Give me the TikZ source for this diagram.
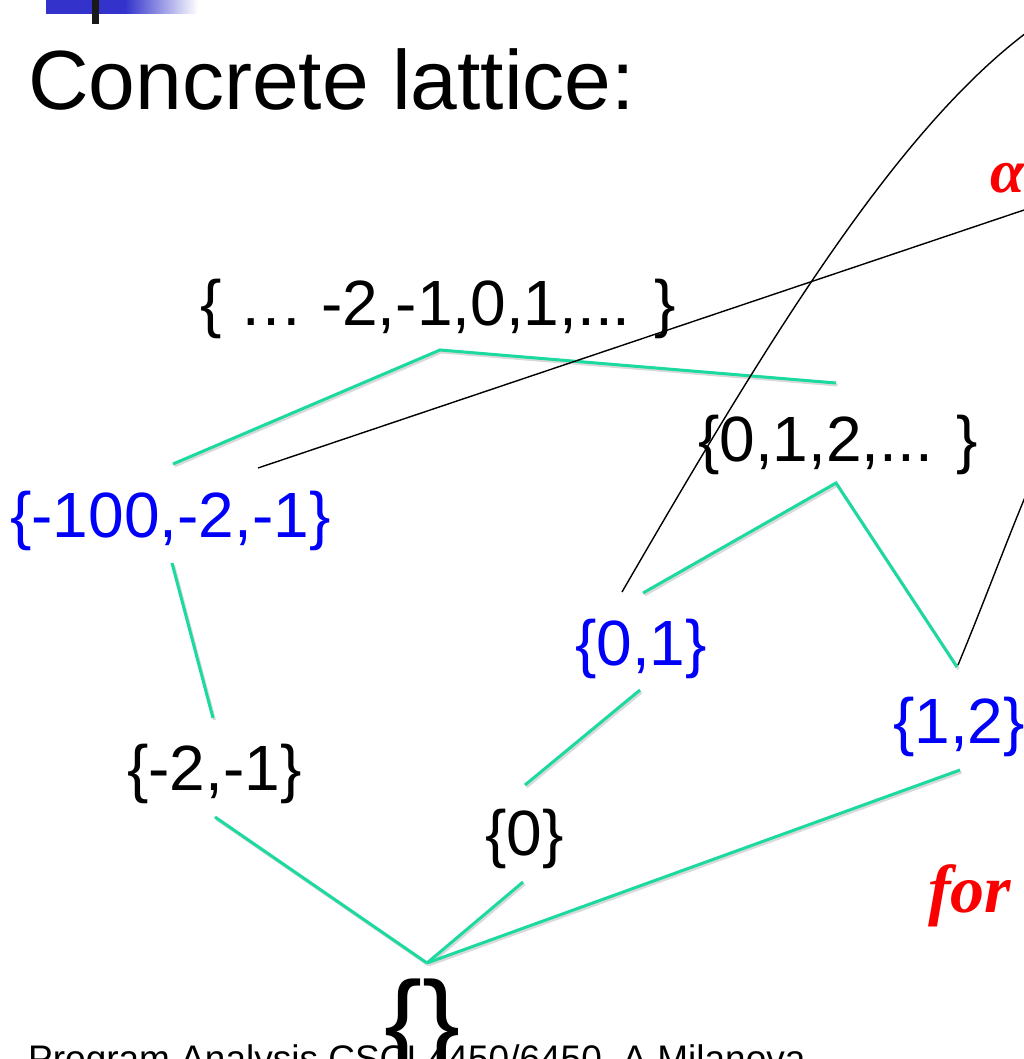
\documentclass[tikz,border=0pt]{standalone}
\usepackage{fontspec}
\setmainfont{Liberation Sans}
\newfontfamily\hand{Liberation Serif}
\definecolor{lgreen}{RGB}{28,217,160}
\definecolor{lblue}{RGB}{0,0,250}
\definecolor{barblue}{RGB}{51,51,204}
\definecolor{pred}{RGB}{250,0,0}
\tikzset{
  lab/.style={anchor=base west, inner sep=0pt, font=\fontsize{64}{64}\selectfont},
  blab/.style={lab, text=lblue},
  edge/.style={draw=lgreen, line width=3pt,
    preaction={draw=black!15, line width=3pt, transform canvas={shift={(1.5pt,-2pt)}}}},
  pen/.style={draw=black, line width=1.4pt},
  redhand/.style={anchor=base west, inner sep=0pt, text=pred, font=\hand\bfseries\itshape\fontsize{68}{68}\selectfont},
}
\begin{document}
\begin{tikzpicture}[x=1pt,y=-1pt]
\useasboundingbox (0,0) rectangle (1023,1059);
% header bar
\fill[barblue] (46,0) rectangle (126,14);
\shade[left color=barblue, right color=white] (125,0) rectangle (198,14);
\fill[black!90] (92,0) rectangle (99,24);
% title
\node[anchor=base west, inner sep=0pt, font=\fontsize{84}{84}\selectfont] (title) at (28,110) {Concrete lattice:};
% lattice nodes
\node[lab] (top) at (200,325) {\{ … -2,-1,0,1,... \}};
\node[lab] (nat) at (698,461) {\{0,1,2,... \}};
\node[blab] (neg) at (10,537) {\{-100,-2,-1\}};
\node[blab] (zo) at (575,665) {\{0,1\}};
\node[blab] (ot) at (893,743) {\{1,2\}};
\node[lab] (mt) at (127,790) {\{-2,-1\}};
\node[lab] (z) at (485,855) {\{0\}};
% footer
\node[anchor=base west, inner sep=0pt, font=\fontsize{37}{37}\selectfont] (foot) at (28,1071) {Program Analysis CSCI 4450/6450, A Milanova};
\node[anchor=base west, inner sep=0pt, font=\fontsize{114}{114}\selectfont] (bot) at (384,1061) {\{\}};
% edge end points
\coordinate (top-s) at (440,350);
\coordinate (neg-n) at (173,464);
\coordinate (nat-n) at (836,383);
\coordinate (neg-s) at (172,563);
\coordinate (mt-n) at (213,718);
\coordinate (nat-s) at (836,483);
\coordinate (zo-n) at (643,593);
\coordinate (ot-n) at (957,667);
\coordinate (zo-s) at (640,690);
\coordinate (z-n) at (525,785);
\coordinate (mt-s) at (215,817);
\coordinate (bot-n) at (427,963);
\coordinate (z-s) at (523,882);
\coordinate (ot-s) at (960,770);
% lattice edges
\draw[edge] (neg-n) -- (top-s) -- (nat-n);
\draw[edge] (neg-s) -- (mt-n);
\draw[edge] (zo-n) -- (nat-s) -- (ot-n);
\draw[edge] (zo-s) -- (z-n);
\draw[edge] (mt-s) -- (bot-n);
\draw[edge] (z-s) -- (bot-n);
\draw[edge] (ot-s) -- (bot-n);
% handwritten pen strokes
\coordinate (p1) at (258,468);
\coordinate (p1e) at (1030,208);
\coordinate (p2) at (622,592);
\coordinate (p2e) at (1030,30);
\coordinate (p3) at (958,665);
\coordinate (p3e) at (1028,490);
\draw[pen] (p1) -- (p1e);
\draw[pen] (p2) .. controls (765,345) and (895,130) .. (p2e);
\draw[pen] (p3) .. controls (985,600) and (1005,545) .. (p3e);
\node[redhand, font=\hand\bfseries\itshape\fontsize{62}{62}\selectfont] (alpha) at (990,193) {α};
\node[redhand] (for) at (928,912) {for};
\end{tikzpicture}
\end{document}
